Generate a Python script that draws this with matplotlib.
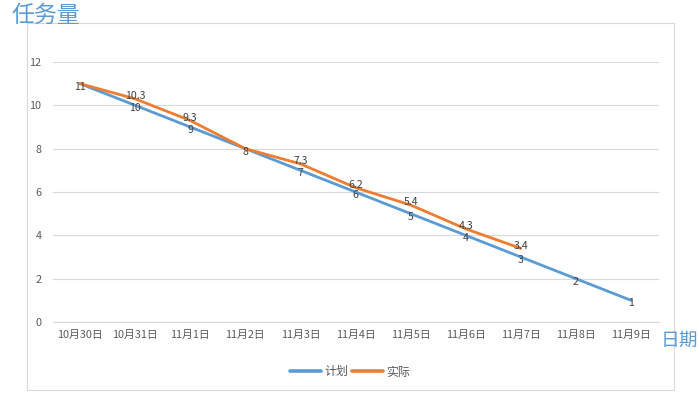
import matplotlib
matplotlib.use('Agg')
import matplotlib.pyplot as plt
from matplotlib.patches import Rectangle

plt.rcParams['font.family'] = ['Noto Sans CJK SC', 'DejaVu Sans']

# 数据
dates = ['10月30日', '10月31日', '11月1日', '11月2日', '11月3日', '11月4日',
         '11月5日', '11月6日', '11月7日', '11月8日', '11月9日']
plan = [11, 10, 9, 8, 7, 6, 5, 4, 3, 2, 1]
actual = [11, 10.3, 9.3, 8, 7.3, 6.2, 5.4, 4.3, 3.4]

blue = '#5B9BD5'
orange = '#ED7D31'
grid_c = '#D9D9D9'
txt_c = '#595959'

fig = plt.figure(figsize=(6.99, 3.97), dpi=100)
ax = fig.add_axes([52.5 / 699, 1 - 322 / 397, 606 / 699, 260 / 397])

x_plan = list(range(len(plan)))
x_act = list(range(len(actual)))
ax.plot(x_plan, plan, color=blue, lw=2.0, label='计划', solid_capstyle='round')
ax.plot(x_act, actual, color=orange, lw=2.0, label='实际', solid_capstyle='round')

# 数据标签
for xi, v in zip(x_plan, plan):
    ax.text(xi, v - 0.14, f'{v:g}', ha='center', va='center', fontsize=7.6, color='#404040')
for xi, v in zip(x_act, actual):
    if v in (11, 8):
        continue
    ax.text(xi, v + 0.12, f'{v:g}', ha='center', va='center', fontsize=7.6, color='#404040')

ax.set_xlim(-0.5, len(dates) - 0.5)
ax.set_ylim(0, 12)
ax.set_xticks(x_plan)
ax.set_xticklabels(dates)
ax.set_yticks(range(0, 13, 2))
ax.tick_params(axis='both', length=0, labelsize=7.8, colors=txt_c, pad=6)
ax.tick_params(axis='y', pad=8)
ax.grid(axis='y', color=grid_c, lw=0.8)
ax.set_axisbelow(True)
for s in ['top', 'right', 'left']:
    ax.spines[s].set_visible(False)
ax.spines['bottom'].set_color(grid_c)
ax.spines['bottom'].set_linewidth(0.8)

# 外框
fig.patches.append(Rectangle((27 / 699, 1 - 390 / 397), 647 / 699, 367 / 397,
                             transform=fig.transFigure, fill=False,
                             edgecolor=grid_c, lw=0.8))

fig.text(12 / 699, 1 - 15 / 397, '任务量', fontsize=16.5, color=blue,
         ha='left', va='center')
fig.text(661 / 699, 1 - 340 / 397, '日期', fontsize=13.5, color=blue,
         ha='left', va='center')

leg = ax.legend(loc='center', bbox_to_anchor=(350 / 699, 1 - 372 / 397),
                bbox_transform=fig.transFigure, ncol=2, frameon=False,
                fontsize=8.6, handlelength=2.6, columnspacing=0.3, handletextpad=0.3,
                labelcolor=txt_c)
for ln in leg.get_lines():
    ln.set_linewidth(2.6)

fig.savefig('out.png', dpi=100)
